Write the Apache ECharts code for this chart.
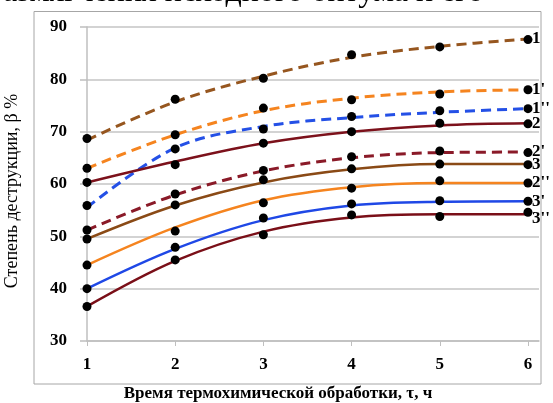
<!DOCTYPE html>
<html>
<head>
<meta charset="utf-8">
<script src="https://cdn.jsdelivr.net/npm/echarts@6/dist/echarts.min.js"></script>
<style>
html,body{margin:0;padding:0;background:#fff;}
#c{width:553px;height:403px;}
</style>
</head>
<body>
<div id="c"></div>
<script>
// x categories (hours)
const hours = [1, 2, 3, 4, 5, 6];
const yTicks = [30, 40, 50, 60, 70, 80, 90];
const seriesNames = ["1", "1'", "1''", "2", "2'", "3", "2''", "3'", "3''"];

// measured points (dots)
const dots1   = [68.7, 76.2, 80.2, 84.7, 86.2, 87.6];
const dots1p  = [63.0, 69.4, 74.5, 76.1, 77.2, 78.0];
const dots1pp = [55.9, 66.7, 70.5, 72.9, 74.0, 74.4];
const dots2   = [60.3, 63.7, 67.8, 70.0, 71.6, 71.5];
const dots2p  = [51.2, 58.1, 62.6, 65.2, 66.3, 66.0];
const dots3   = [49.5, 56.0, 60.8, 62.9, 63.8, 63.7];
const dots2pp = [44.5, 51.0, 56.4, 59.2, 60.6, 60.2];
const dots3p  = [40.0, 47.9, 53.5, 56.2, 56.8, 56.7];
const dots3pp = [36.6, 45.5, 50.3, 54.1, 53.8, 54.6];

// trend curves read at each hour
const curve1   = [68.4, 75.7, 80.6, 84.2, 86.3, 87.7];
const curve1p  = [63.0, 69.4, 74.0, 76.4, 77.6, 78.0];
const curve1pp = [55.5, 66.9, 71.0, 72.7, 73.7, 74.4];
const curve2   = [60.3, 64.3, 67.8, 70.0, 71.2, 71.6];
const curve2p  = [51.2, 57.9, 62.5, 65.0, 66.0, 66.1];
const curve3   = [49.5, 55.9, 60.3, 62.8, 63.8, 63.8];
const curve2pp = [44.5, 51.7, 56.9, 59.4, 60.2, 60.2];
const curve3p  = [40.0, 47.6, 53.1, 55.9, 56.6, 56.7];
const curve3pp = [36.6, 45.3, 50.9, 53.6, 54.2, 54.2];

const dotSets = [dots1, dots1p, dots1pp, dots2, dots2p, dots3, dots2pp, dots3p, dots3pp];
const curveSets = [curve1, curve1p, curve1pp, curve2, curve2p, curve3, curve2pp, curve3p, curve3pp];

const styles = [
  {color: '#96561f', dashed: true,  off: [0, 0]},
  {color: '#f5841f', dashed: true,  off: [0, 0]},
  {color: '#2450e6', dashed: true,  off: [0, 0]},
  {color: '#7c111b', dashed: false, off: [0, 0]},
  {color: '#8a1a28', dashed: true,  off: [0, 0]},
  {color: '#8a4a16', dashed: false, off: [0, 0]},
  {color: '#f5841f', dashed: false, off: [0, 0]},
  {color: '#1f48e6', dashed: false, off: [0, 0]},
  {color: '#7a0f18', dashed: false, off: [0, 4]}
];

const serif = '"Liberation Serif", "DejaVu Serif", serif';
const pair = arr => hours.map((h, i) => [h, arr[i]]);

const series = [];
curveSets.forEach((c, i) => {
  const st = styles[i];
  series.push({
    name: seriesNames[i],
    type: 'line',
    data: pair(c),
    smooth: 0.35,
    symbol: 'none',
    lineStyle: {
      color: st.color,
      width: st.dashed ? 3 : 2.5,
      type: st.dashed ? [10, 6] : 'solid'
    },
    endLabel: {
      show: true,
      formatter: '{a}',
      color: '#000',
      fontFamily: serif,
      fontWeight: 'bold',
      fontSize: 17,
      distance: 4,
      offset: st.off
    },
    z: 2,
    silent: true
  });
});
dotSets.forEach((d, i) => {
  series.push({
    name: seriesNames[i] + ' pts',
    type: 'scatter',
    data: pair(d),
    symbolSize: 9,
    itemStyle: {color: '#000', opacity: 1},
    z: 5,
    silent: true
  });
});

const chart = echarts.init(document.getElementById('c'));
chart.setOption({
  animation: false,
  backgroundColor: '#fff',
  grid: {left: 87, right: 14, top: 27, bottom: 62, outerBoundsMode: 'none', containLabel: false},
  xAxis: {
    type: 'value',
    min: 1, max: 6.125, interval: 1,
    name: 'Время термохимической обработки, τ, ч',
    nameLocation: 'middle',
    nameGap: 44,
    nameTextStyle: {fontFamily: serif, fontWeight: 'bold', fontSize: 17, color: '#000', padding: [0, 70, 0, 0]},
    axisLine: {show: true, lineStyle: {color: '#bfbfbf', width: 1.5}},
    axisTick: {show: true, length: 5, customValues: hours, lineStyle: {color: '#bfbfbf'}},
    axisLabel: {customValues: hours, margin: 15, fontFamily: serif, fontWeight: 'bold', fontSize: 17, color: '#000'},
    splitLine: {show: false}
  },
  yAxis: {
    type: 'value',
    min: 30, max: 90, interval: 10,
    name: 'Степень деструкции, β %',
    nameLocation: 'middle',
    nameGap: 66,
    nameRotate: 90,
    nameTextStyle: {fontFamily: serif, fontSize: 18, color: '#000', padding: [0, 14, 0, 0]},
    axisLine: {show: true, lineStyle: {color: '#bfbfbf', width: 1.5}},
    axisTick: {show: true, length: 7, lineStyle: {color: '#bfbfbf', width: 1.5}},
    axisLabel: {customValues: yTicks, margin: 20, fontFamily: serif, fontWeight: 'bold', fontSize: 17, color: '#000'},
    splitLine: {show: true, lineStyle: {color: '#c4c4c4', width: 1.5}}
  },
  graphic: [
    {
      type: 'rect',
      shape: {x: 34, y: 11.5, width: 507, height: 372.5},
      style: {fill: 'none', stroke: '#a6a6a6', lineWidth: 1},
      z: -1, silent: true
    },
    {
      type: 'text',
      x: -13, y: 9,
      style: {
        text: 'размягчения исходного битума и его',
        font: '32px "Liberation Serif", serif',
        fill: '#000',
        textVerticalAlign: 'bottom'
      },
      silent: true
    }
  ],
  series: series
});
</script>
</body>
</html>
